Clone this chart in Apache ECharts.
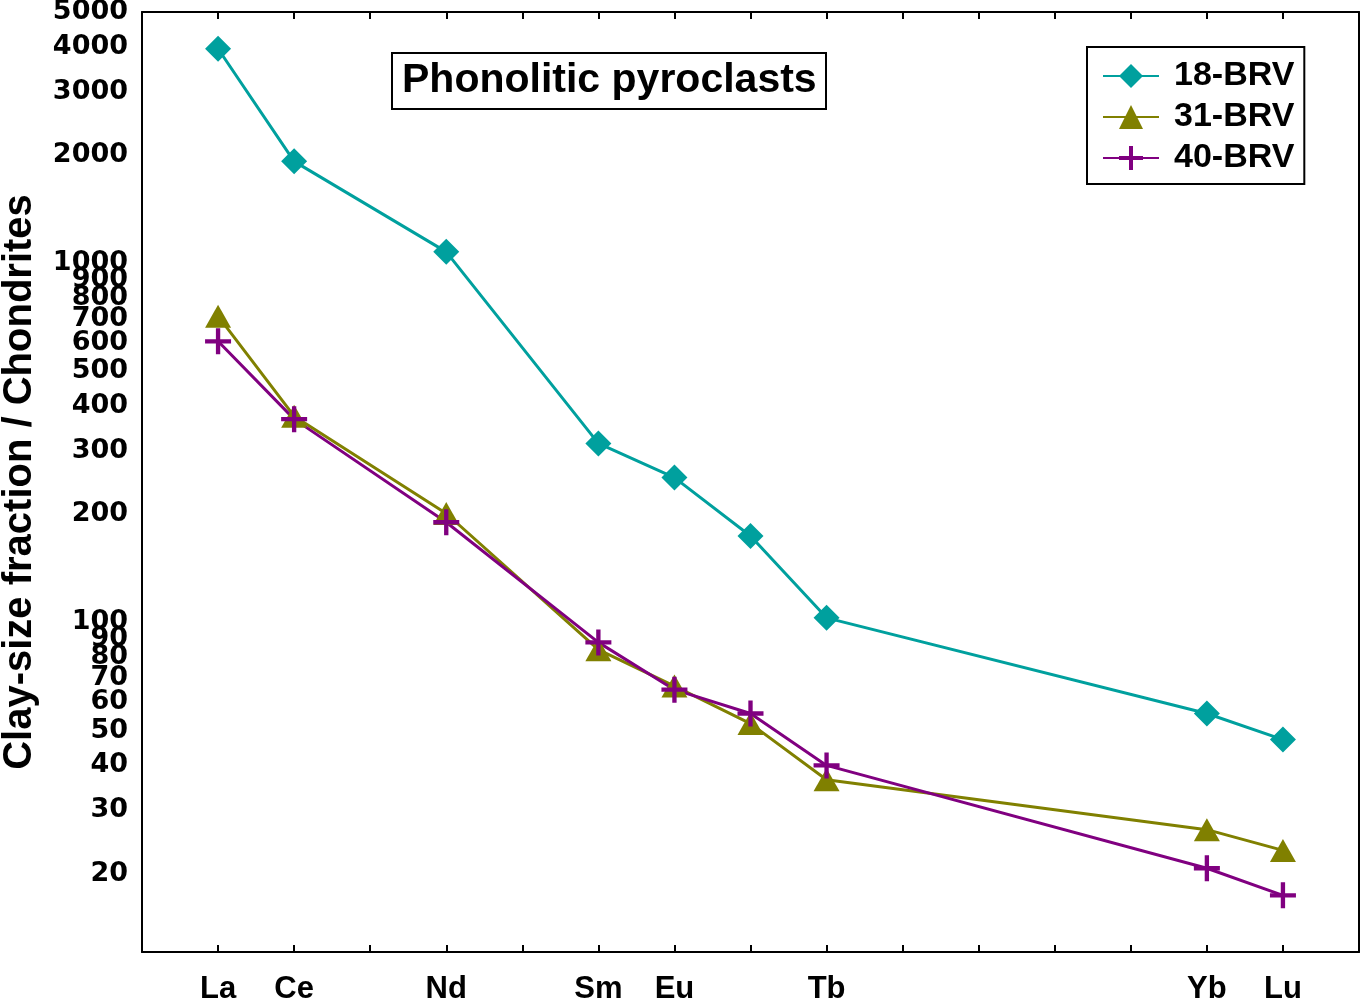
<!DOCTYPE html>
<html>
<head>
<meta charset="utf-8">
<title>Phonolitic pyroclasts</title>
<script src="https://cdn.jsdelivr.net/npm/echarts@6/dist/echarts.min.js"></script>
<style>
  html, body { margin: 0; padding: 0; background: #fff; }
  #chart { width: 1361px; height: 1001px; }
</style>
</head>
<body>
<div id="chart"></div>
<script>
// REE sequence, padded with an empty slot at each end
const elements = ['', 'La', 'Ce', 'Pr', 'Nd', 'Pm', 'Sm', 'Eu', 'Gd', 'Tb', 'Dy', 'Ho', 'Er', 'Tm', 'Yb', 'Lu', '']
const labelled = ['La', 'Ce', 'Nd', 'Sm', 'Eu', 'Tb', 'Yb', 'Lu']

const brv18 = [null, 3950, 1920, null, 1075, null, 315, 253, 174, 103, null, null, null, null, 55.8, 47.2, null]
const brv31 = [null, 712, 375, null, 201, null, 84, 66.5, 52.3, 36.5, null, null, null, null, 26.5, 23.2, null]
const brv40 = [null, 606, 368, null, 190, null, 88, 65, 55.8, 40, null, null, null, null, 20.7, 17.4, null]

const yTicks = [20, 30, 40, 50, 60, 70, 80, 90, 100, 200, 300, 400, 500, 600, 700, 800, 900, 1000, 2000, 3000, 4000, 5000]
const yMin = 12.1
const yMax = 5000

const font = '"Liberation Sans", Arial, sans-serif'
const plus = 'path://M10,0h4v10h10v4h-10v10h-4v-10h-10v-4h10z'
const logTicks = yTicks.map(v => Math.log10(v))

const chart = echarts.init(document.getElementById('chart'))

function lineSeries(name, data, color, symbol, size) {
  return {
    name: name,
    type: 'line',
    data: data,
    connectNulls: true,
    symbol: symbol,
    symbolSize: size,
    showAllSymbol: true,
    color: color,
    itemStyle: { color: color },
    lineStyle: { color: color, width: 3 },
    animation: false
  }
}

chart.setOption({
  backgroundColor: '#fff',
  textStyle: { fontFamily: font },
  title: {
    text: 'Phonolitic pyroclasts',
    left: 392,
    top: 53,
    padding: [8, 10],
    borderColor: '#000',
    borderWidth: 2,
    textStyle: { fontFamily: font, fontWeight: 'bold', fontSize: 41, lineHeight: 40, color: '#000' }
  },
  legend: {
    left: 1087,
    top: 47,
    orient: 'vertical',
    padding: [12, 10, 9, 15],
    itemWidth: 56,
    itemHeight: 30,
    itemGap: 7,
    borderColor: '#000',
    borderWidth: 2,
    textStyle: { fontFamily: font, fontWeight: 'bold', fontSize: 34, lineHeight: 30, color: '#000', padding: [0, 0, 0, 10] },
    data: ['18-BRV', '31-BRV', '40-BRV']
  },
  grid: { left: 142, right: 2, top: 12, bottom: 49, containLabel: false, outerBoundsMode: 'none' },
  xAxis: [{
    type: 'category',
    data: elements,
    boundaryGap: false,
    axisLine: { lineStyle: { color: '#000', width: 2 } },
    axisTick: { inside: true, length: 7, lineStyle: { color: '#000', width: 2 } },
    axisLabel: {
      interval: 0,
      margin: 22,
      fontFamily: font,
      fontWeight: 'bold',
      fontSize: 31,
      color: '#000',
      formatter: v => labelled.indexOf(v) >= 0 ? v : ''
    },
    splitLine: { show: false }
  }, {
    type: 'category',
    data: elements,
    position: 'top',
    boundaryGap: false,
    axisLine: { lineStyle: { color: '#000', width: 2 } },
    axisTick: { inside: true, length: 7, lineStyle: { color: '#000', width: 2 } },
    axisLabel: { show: false },
    splitLine: { show: false }
  }],
  yAxis: [{
    // data axis
    type: 'log',
    min: yMin,
    max: yMax,
    axisLine: { show: false },
    axisTick: { show: false },
    axisLabel: { show: false },
    splitLine: { show: false }
  }, {
    // left tick/label axis, same log extent
    type: 'value',
    min: Math.log10(yMin),
    max: Math.log10(yMax),
    position: 'left',
    name: 'Clay-size fraction / Chondrites',
    nameLocation: 'middle',
    nameGap: 102,
    nameTextStyle: { fontFamily: font, fontWeight: 'bold', fontSize: 40, color: '#000' },
    axisLine: { show: true, lineStyle: { color: '#000', width: 2 } },
    axisTick: { inside: true, length: 7, customValues: logTicks, lineStyle: { color: '#000', width: 2 } },
    axisLabel: {
      customValues: logTicks,
      margin: 14,
      fontFamily: '"DejaVu Sans", sans-serif',
      fontWeight: 'bold',
      fontSize: 27,
      color: '#000',
      formatter: v => String(Math.round(Math.pow(10, v)))
    },
    splitLine: { show: false }
  }, {
    type: 'value',
    min: Math.log10(yMin),
    max: Math.log10(yMax),
    position: 'right',
    axisLine: { show: true, lineStyle: { color: '#000', width: 2 } },
    axisTick: { inside: true, length: 7, customValues: logTicks, lineStyle: { color: '#000', width: 2 } },
    axisLabel: { show: false },
    splitLine: { show: false }
  }],
  series: [
    lineSeries('18-BRV', brv18, '#00a09e', 'diamond', 26),
    lineSeries('31-BRV', brv31, '#808000', 'triangle', [26, 23]),
    lineSeries('40-BRV', brv40, '#800080', plus, 26)
  ]
})
</script>
</body>
</html>
